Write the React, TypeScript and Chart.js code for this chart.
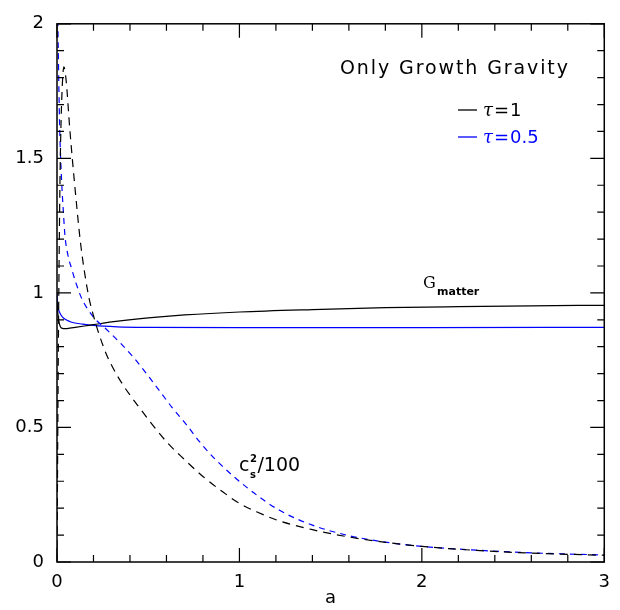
import React, { useEffect, useRef } from 'react';
import { Chart, registerables } from 'chart.js';

Chart.register(...registerables);

// c_s^2/100, tau = 1 (black dashed)
const A_CS_TAU1 = [0, 0.004, 0.008, 0.012, 0.017, 0.025, 0.038, 0.05, 0.07, 0.1, 0.13, 0.17, 0.2, 0.26, 0.3, 0.36, 0.45, 0.6, 0.7, 0.8, 0.9, 1.0, 1.1, 1.2, 1.4, 1.6, 1.8, 2.0, 2.3, 2.6, 3.0];
const CS_TAU1 = [0, 0.45, 0.85, 1.15, 1.45, 1.7, 1.84, 1.79, 1.61, 1.38, 1.18, 1.0, 0.915, 0.79, 0.73, 0.66, 0.575, 0.447, 0.38, 0.318, 0.265, 0.218, 0.185, 0.157, 0.12, 0.093, 0.073, 0.058, 0.043, 0.033, 0.025];

// c_s^2/100, tau = 0.5 (blue dashed)
const A_CS_TAU05 = [0.001, 0.004, 0.007, 0.012, 0.016, 0.025, 0.035, 0.044, 0.06, 0.08, 0.1, 0.135, 0.2, 0.27, 0.345, 0.42, 0.53, 0.63, 0.71, 0.78, 0.87, 1.05, 1.22, 1.4, 1.6, 1.8, 2.0, 2.3, 2.6, 3.0];
const CS_TAU05 = [2.3, 2.05, 1.9, 1.7, 1.58, 1.42, 1.3, 1.21, 1.14, 1.09, 1.045, 0.98, 0.91, 0.865, 0.815, 0.76, 0.665, 0.575, 0.51, 0.448, 0.38, 0.272, 0.192, 0.137, 0.098, 0.074, 0.058, 0.044, 0.034, 0.026];

// G_matter, tau = 1 (black solid)
const A_G_TAU1 = [0, 0.004, 0.01, 0.018, 0.03, 0.045, 0.07, 0.1, 0.15, 0.2, 0.3, 0.5, 0.7, 1.0, 1.4, 1.8, 2.2, 2.6, 3.0];
const G_TAU1 = [0.97, 0.93, 0.895, 0.875, 0.868, 0.867, 0.869, 0.872, 0.877, 0.882, 0.892, 0.907, 0.918, 0.929, 0.938, 0.945, 0.949, 0.952, 0.954];

// G_matter, tau = 0.5 (blue solid)
const A_G_TAU05 = [0, 0.003, 0.008, 0.016, 0.03, 0.05, 0.08, 0.14, 0.2, 0.33, 0.5, 1.0, 2.0, 3.0];
const G_TAU05 = [1.0, 0.96, 0.94, 0.925, 0.91, 0.9, 0.891, 0.884, 0.879, 0.874, 0.872, 0.871, 0.871, 0.872];

const X_TICKS = [0, 1, 2, 3];
const Y_TICKS = [0, 0.5, 1, 1.5, 2];
const X_TICK_LABELS = ['0', '1', '2', '3'];
const Y_TICK_LABELS = ['0', '0.5', '1', '1.5', '2'];
const TITLE = 'Only Growth Gravity';
const X_LABEL = 'a';
const LEGEND_LABELS = ['1', '0.5'];

const SANS = '"DejaVu Sans", sans-serif';
const SERIF = '"DejaVu Serif", serif';
const BLUE = '#0000ff';

const pts = (xs: number[], ys: number[]) => xs.map((x, i) => ({ x, y: ys[i] }));

const decor = {
  id: 'decor',
  afterDraw(chart: any) {
    const { ctx, chartArea: ca, scales } = chart;
    const xs = scales.x;
    const ys = scales.y;
    ctx.save();
    ctx.strokeStyle = '#000';
    ctx.lineWidth = 1.5;
    ctx.strokeRect(ca.left, ca.top, ca.right - ca.left, ca.bottom - ca.top);
    ctx.lineWidth = 1.2;
    ctx.beginPath();
    for (let i = 0; i <= 15; i++) {
      const px = xs.getPixelForValue(i * 0.2);
      const len = i % 5 === 0 ? 14 : 7;
      ctx.moveTo(px, ca.bottom);
      ctx.lineTo(px, ca.bottom - len);
      ctx.moveTo(px, ca.top);
      ctx.lineTo(px, ca.top + len);
    }
    for (let i = 0; i <= 20; i++) {
      const py = ys.getPixelForValue(i * 0.1);
      const len = i % 5 === 0 ? 14 : 7;
      ctx.moveTo(ca.left, py);
      ctx.lineTo(ca.left + len, py);
      ctx.moveTo(ca.right, py);
      ctx.lineTo(ca.right - len, py);
    }
    ctx.stroke();

    ctx.fillStyle = '#000';
    ctx.textBaseline = 'alphabetic';

    ctx.font = `18px ${SANS}`;
    ctx.textAlign = 'center';
    ctx.fillText(X_LABEL, (ca.left + ca.right) / 2, 603);
    ctx.textAlign = 'left';

    (ctx as any).letterSpacing = '1.9px';
    ctx.font = `19px ${SANS}`;
    ctx.fillText(TITLE, 340, 74);
    (ctx as any).letterSpacing = '0px';

    const legendColors = ['#000', BLUE];
    const legendY = [116, 143];
    legendColors.forEach((c, i) => {
      const by = legendY[i];
      ctx.strokeStyle = c;
      ctx.fillStyle = c;
      ctx.lineWidth = 1.3;
      ctx.beginPath();
      ctx.moveTo(458, by - 6);
      ctx.lineTo(477, by - 6);
      ctx.stroke();
      let x = 483;
      ctx.font = `italic 18px ${SERIF}`;
      ctx.fillText('τ', x, by);
      x += ctx.measureText('τ').width + 1;
      ctx.font = `18px ${SANS}`;
      ctx.fillText('=', x, by);
      x += ctx.measureText('=').width + 1;
      ctx.fillText(LEGEND_LABELS[i], x, by);
    });

    ctx.fillStyle = '#000';
    ctx.font = `16px ${SERIF}`;
    ctx.fillText('G', 423, 288);
    ctx.font = `bold 11px ${SANS}`;
    ctx.fillText('matter', 437, 295);

    ctx.font = `19px ${SANS}`;
    ctx.fillText('c', 239, 471);
    const cw = ctx.measureText('c').width;
    ctx.font = `bold 10px ${SANS}`;
    ctx.fillText('2', 239 + cw + 0.5, 462);
    ctx.fillText('s', 239 + cw + 0.5, 478);
    ctx.font = `19px ${SANS}`;
    ctx.fillText('/100', 239 + cw + 8, 471);

    ctx.restore();
  },
};

export default function App() {
  const ref = useRef<HTMLCanvasElement | null>(null);
  useEffect(() => {
    if (!ref.current) return;
    const common = { borderWidth: 1.2, pointRadius: 0, fill: false, cubicInterpolationMode: 'monotone' as const };
    const chart = new Chart(ref.current, {
      type: 'line',
      data: {
        datasets: [
          { ...common, data: pts(A_CS_TAU1, CS_TAU1), borderColor: '#000', borderDash: [8, 6] },
          { ...common, data: pts(A_CS_TAU05, CS_TAU05), borderColor: BLUE, borderDash: [6, 5] },
          { ...common, data: pts(A_G_TAU1, G_TAU1), borderColor: '#000' },
          { ...common, data: pts(A_G_TAU05, G_TAU05), borderColor: BLUE },
        ],
      },
      options: {
        responsive: false,
        animation: false,
        events: [],
        layout: { padding: { top: 14, right: 15, left: 0, bottom: 0 } },
        plugins: { legend: { display: false }, tooltip: { enabled: false } },
        scales: {
          x: {
            type: 'linear',
            min: 0,
            max: 3,
            grid: { display: false, drawTicks: false },
            border: { display: false },
            afterFit: (s: any) => { s.height = 48; },
            afterBuildTicks: (s: any) => { s.ticks = X_TICKS.map((v) => ({ value: v })); },
            ticks: {
              padding: 10,
              color: '#000',
              font: { family: SANS, size: 18 },
              maxRotation: 0,
              callback: (v: any) => X_TICK_LABELS[X_TICKS.indexOf(Number(v))] ?? '',
            },
          },
          y: {
            type: 'linear',
            min: 0,
            max: 2,
            grid: { display: false, drawTicks: false },
            border: { display: false },
            afterFit: (s: any) => { s.width = 57; },
            afterBuildTicks: (s: any) => { s.ticks = Y_TICKS.map((v) => ({ value: v })); },
            ticks: {
              padding: 13,
              color: '#000',
              font: { family: SANS, size: 18 },
              callback: (v: any) => Y_TICK_LABELS[Y_TICKS.indexOf(Number(v))] ?? '',
            },
          },
        },
      },
      plugins: [decor],
    });
    return () => chart.destroy();
  }, []);
  return (
    <div style={{ position: 'absolute', left: 0, top: 0, width: 620, height: 610, background: '#fff' }}>
      <canvas ref={ref} width={620} height={610} />
    </div>
  );
}
